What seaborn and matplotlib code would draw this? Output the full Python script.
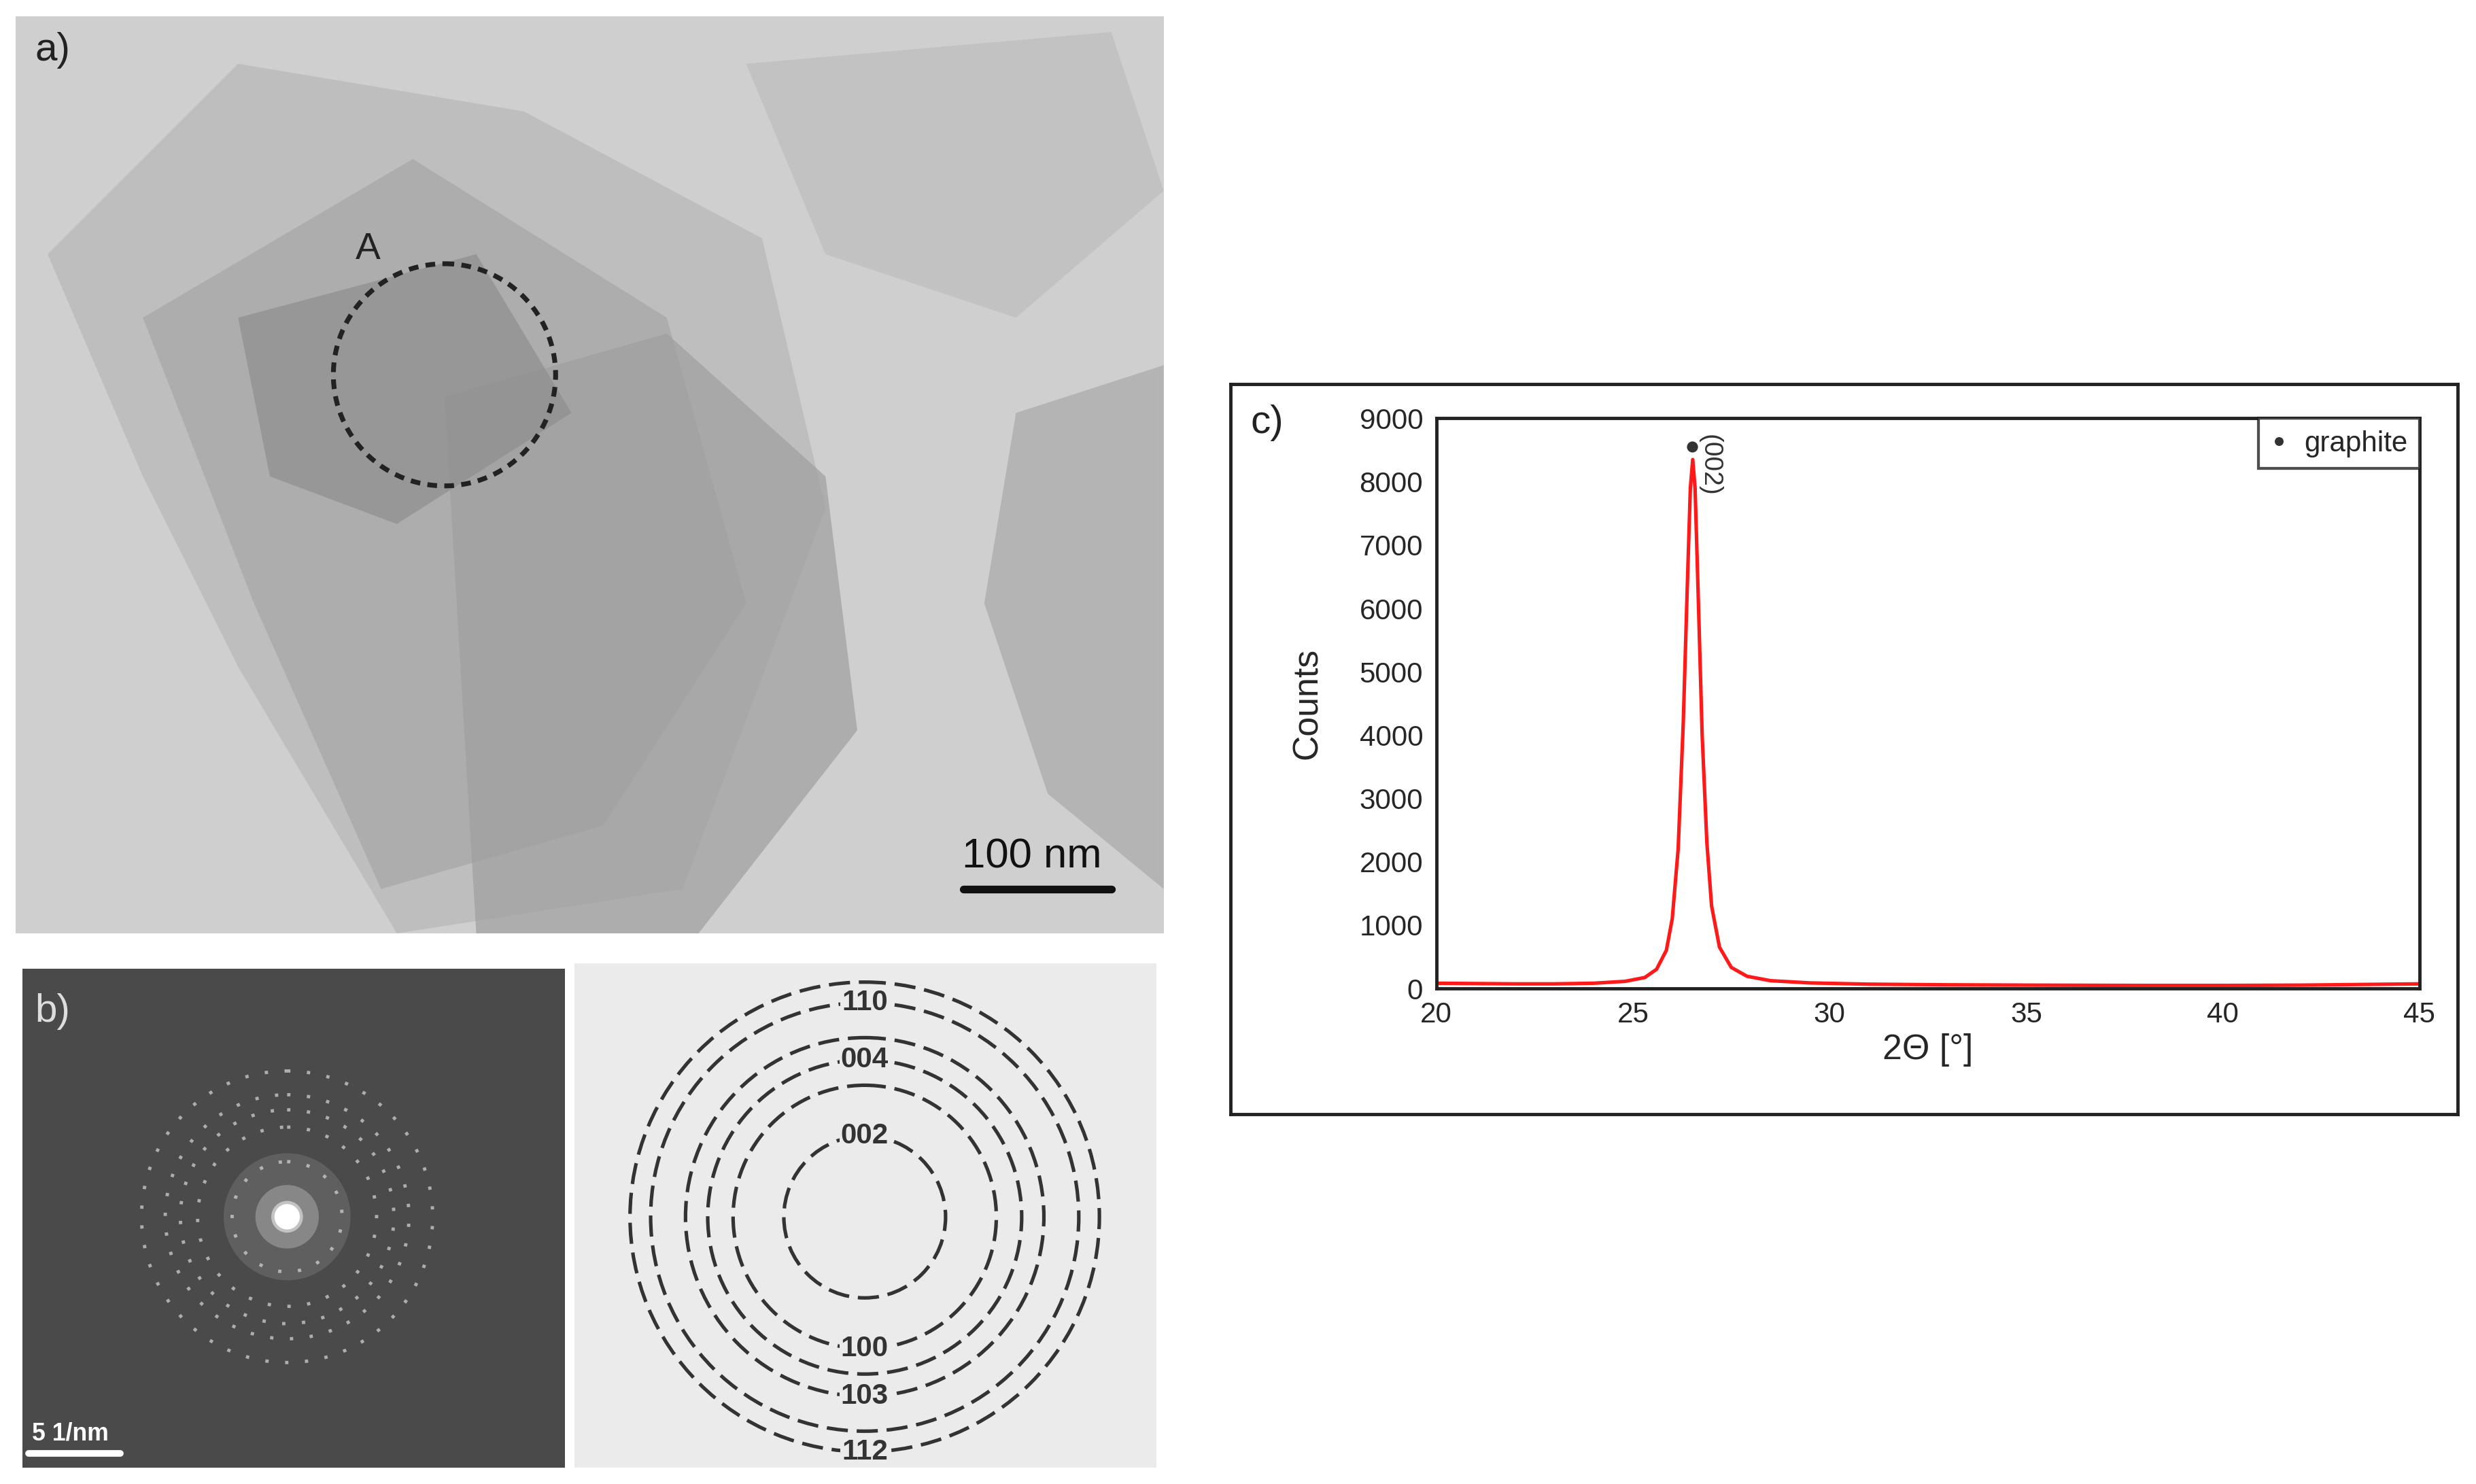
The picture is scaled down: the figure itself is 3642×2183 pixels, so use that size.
import numpy as np
import pandas as pd
import seaborn as sns
import matplotlib.pyplot as plt
from matplotlib.patches import Circle, Polygon, Rectangle

sns.set_style("white")
plt.rcParams['font.family'] = ['Liberation Sans', 'DejaVu Sans']

# XRD pattern
two_theta = [20, 21, 22, 23, 24, 24.8, 25.3, 25.6, 25.85, 26.0, 26.15, 26.28, 26.38, 26.46, 26.52,
             26.58, 26.66, 26.76, 26.88, 27.0, 27.2, 27.5, 27.9, 28.5, 29.5, 31, 33, 35, 38, 40, 42, 43.5, 45]
counts = [80, 75, 70, 70, 80, 110, 170, 300, 600, 1100, 2200, 4200, 6300, 7900, 8350,
          7900, 6200, 4000, 2300, 1300, 650, 330, 190, 120, 85, 65, 55, 50, 45, 45, 50, 60, 70]
peak_label = "(002)"
peak_pos = 26.5
peak_marker_y = 8550

# diffraction rings in panel b (radius in px, label, label side)
ring_radius = [51, 83, 99, 113, 135, 148]
ring_label = ["002", "100", "004", "103", "110", "112"]
ring_side = ["top", "bottom", "top", "bottom", "top", "bottom"]

fig = plt.figure(figsize=(15.6, 9.35), dpi=233.5)

# ---- panel a: TEM image (stylised)
axa = fig.add_axes([0.0064, 0.371, 0.4635, 0.618])
axa.set_xlim(10, 733); axa.set_ylim(588, 10); axa.axis('off')
axa.add_patch(Rectangle((10, 10), 723, 578, color='#cfcfcf'))
flakes = [
    [(30, 160), (150, 40), (330, 70), (480, 150), (520, 320), (430, 560), (250, 588), (150, 420), (90, 300)],
    [(90, 200), (260, 100), (420, 200), (470, 380), (380, 520), (240, 560), (160, 380)],
    [(280, 250), (420, 210), (520, 300), (540, 460), (440, 588), (300, 588)],
    [(470, 40), (700, 20), (733, 120), (640, 200), (520, 160)],
    [(640, 260), (733, 230), (733, 560), (660, 500), (620, 380)],
    [(150, 200), (300, 160), (360, 260), (250, 330), (170, 300)],
]
shades = ['#b8b8b8', '#a6a6a6', '#9f9f9f', '#bdbdbd', '#a9a9a9', '#8e8e8e']
for pts, c in zip(flakes, shades):
    axa.add_patch(Polygon(pts, closed=True, color=c, alpha=0.7, lw=0))
axa.add_patch(Circle((280, 236), 70, fill=False, ls=(0, (2, 1.5)), lw=2.2, color='#222222'))
axa.text(232, 168, "A", fontsize=17, ha='center', va='bottom', color='#222222')
axa.text(22, 20, "a)", fontsize=18, va='top', color='#222222')
axa.plot([607, 700], [560, 560], color='#111111', lw=3.5)
axa.text(650, 552, "100 nm", fontsize=19, ha='center', va='bottom', color='#111111')

# ---- panel b left: SAED pattern (stylised)
axb = fig.add_axes([0.009, 0.011, 0.219, 0.336])
axb.set_xlim(14, 356); axb.set_ylim(925, 611); axb.axis('off')
axb.add_patch(Rectangle((14, 611), 342, 314, color='#4a4a4a'))
for r, a in zip([40, 20, 10], [0.12, 0.25, 0.5]):
    axb.add_patch(Circle((181, 767), r, color='white', alpha=a, lw=0))
axb.add_patch(Circle((181, 767), 8, color='white', lw=0))
for r in ring_radius[:5]:
    axb.add_patch(Circle((181, 767), r * 0.68, fill=False, color='#d8d8d8', lw=1.5,
                         ls=(0, (1, 5)), alpha=0.7))
axb.text(22, 626, "b)", fontsize=18, va='top', color='#dddddd')
axb.plot([18, 76], [916, 916], color='white', lw=3)
axb.text(20, 911, "5 1/nm", fontsize=11, fontweight='bold', va='bottom', color='white')

# ---- panel b right: ring indexing
axr = fig.add_axes([0.232, 0.011, 0.235, 0.340])
axr.set_xlim(362, 729); axr.set_ylim(925, 607); axr.axis('off')
axr.add_patch(Rectangle((362, 607), 367, 318, color='#ebebeb'))
for r, lab, side in zip(ring_radius, ring_label, ring_side):
    axr.add_patch(Circle((545, 767), r, fill=False, color='#333333', lw=1.6, ls=(0, (6, 2.5))))
    y = 767 - r if side == "top" else 767 + r
    axr.text(545, y, lab, fontsize=13, fontweight='bold', ha='center', va='center',
             color='#333333', bbox=dict(facecolor='#ebebeb', edgecolor='none', pad=0.5))

# ---- panel c: XRD
frame = fig.add_axes([0.4968, 0.249, 0.4955, 0.492])
frame.set_xticks([]); frame.set_yticks([])
for s in frame.spines.values():
    s.set_linewidth(1.5); s.set_color('#222222')
frame.patch.set_alpha(0)

ax = fig.add_axes([0.580, 0.334, 0.397, 0.384])
df = pd.DataFrame({'2theta': two_theta, 'counts': counts})
sns.lineplot(data=df, x='2theta', y='counts', color='#ff1a1a', lw=1.6, ax=ax)
ax.plot([peak_pos], [peak_marker_y], 'o', color='#333333', ms=4)
ax.text(peak_pos + 0.45, peak_marker_y + 200, peak_label, rotation=-90, fontsize=12,
        ha='center', va='top', color='#333333')
ax.set_xlim(20, 45); ax.set_ylim(0, 9000)
ax.set_xticks(range(20, 46, 5)); ax.set_yticks(range(0, 9001, 1000))
ax.tick_params(direction='in', labelsize=13, length=4, pad=6)
ax.set_xlabel("2Θ [°]", fontsize=16, labelpad=2)
ax.set_ylabel("Counts", fontsize=16, labelpad=16)
for s in ax.spines.values():
    s.set_linewidth(1.5); s.set_color('#222222')
ax.plot([], [], 'o', color='#333333', ms=3, label='graphite')
leg = ax.legend(loc='upper right', fontsize=13, frameon=True, fancybox=False,
                handlelength=0.6, handletextpad=0.6, borderaxespad=0, edgecolor='#222222')
leg.get_frame().set_linewidth(1.3)
fig.text(0.505, 0.715, "c)", fontsize=18, va='center', color='#222222')

fig.savefig("out.png", dpi=233.5, facecolor='white')
